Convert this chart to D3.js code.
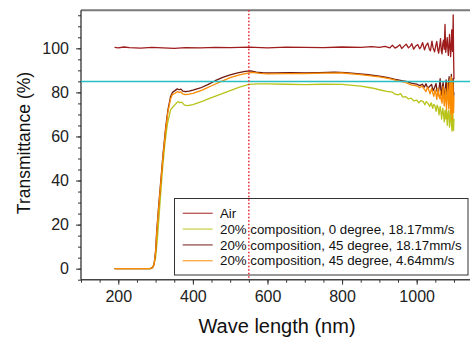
<!DOCTYPE html>
<html>
<head>
<meta charset="utf-8">
<script src="https://cdn.jsdelivr.net/npm/d3@7"></script>
<style>
  html, body { margin: 0; padding: 0; background: #fff; }
  svg { display: block; font-family: "Liberation Sans", Arial, sans-serif; }
</style>
</head>
<body>
<div id="chart"></div>
<script>
// tick labels
const xTicks = [200, 400, 600, 800, 1000];
const yTicks = [0, 20, 40, 60, 80, 100];

// reference lines
const refWave = 550;
const refLevel = 85;

const seriesNames = [
    "Air",
    "20% composition, 0 degree, 18.17mm/s",
    "20% composition, 45 degree, 18.17mm/s",
    "20% composition, 45 degree, 4.64mm/s"
];
const seriesColors = ["#9e1c1c", "#b8c41a", "#6e1a12", "#fb8c00"];

// [wavelength nm, transmittance %]
const air = [
    [190, 100.4], [200, 100.2], [215, 100.6], [230, 100.3], [260, 100.1], [290, 100.4], [320, 100.2],
    [350, 100.0], [380, 100.3], [420, 100.2], [460, 100.4], [500, 100.3], [550, 100.5],
    [600, 100.2], [650, 100.5], [700, 100.4], [750, 100.3], [800, 100.6], [850, 100.4],
    [880, 100.8], [900, 100.4], [915, 100.9], [928, 100.2], [935, 101.4], [942, 100.1],
    [950, 100.9], [955, 101.6], [960, 99.9], [967, 101.1], [972, 101.9], [978, 100.2],
    [983, 101.0], [987, 102.1], [992, 99.6], [997, 100.9], [1003, 101.7], [1008, 99.8],
    [1012, 100.8], [1016, 102.6], [1021, 99.3], [1025, 101.2], [1030, 102.4], [1034, 99.6],
    [1037, 98.9], [1041, 103.3], [1044, 100.2], [1048, 98.4], [1051, 101.0], [1054, 103.1],
    [1057, 99.1], [1059, 97.8], [1062, 101.6], [1064, 104.4], [1066, 99.0], [1068, 97.5],
    [1070, 102.0], [1072, 103.7], [1074, 99.5], [1076, 110.8], [1078, 98.2], [1080, 101.5],
    [1082, 104.9], [1084, 98.8], [1085, 96.8], [1087, 102.2], [1088, 106.3], [1090, 99.5],
    [1091, 96.2], [1093, 103.0], [1094, 108.4], [1095, 100.5], [1096, 98.6], [1097, 104.0],
    [1098, 115.2], [1099, 97.0], [1100, 86.0]
];

const deg0Fast = [
    [190, 0], [250, 0], [288, 0], [295, 1.5], [300, 5], [305, 14], [312, 30], [318, 44],
    [325, 57], [332, 66], [340, 72], [347, 73.5], [355, 75.0], [360, 75.8], [365, 75.3],
    [370, 75.6], [378, 74.2], [385, 74.0], [400, 74.5], [425, 75.9], [450, 77.6],
    [475, 79.2], [500, 80.8], [525, 82.4], [550, 83.6], [575, 83.9], [600, 83.9],
    [650, 83.7], [700, 83.5], [750, 83.7], [800, 83.6], [850, 82.8], [880, 82.0],
    [900, 81.2], [920, 80.5], [935, 80.1], [942, 79.2], [950, 78.9], [957, 79.4],
    [963, 77.9], [970, 78.1], [978, 77.0], [985, 77.4], [992, 76.2], [1000, 76.5],
    [1006, 75.2], [1011, 76.3], [1017, 75.9], [1022, 74.4], [1026, 75.8], [1031, 74.9],
    [1035, 73.6], [1039, 75.3], [1043, 72.8], [1046, 74.6], [1049, 73.9], [1052, 71.4],
    [1055, 74.2], [1058, 72.6], [1060, 69.8], [1063, 73.7], [1065, 71.2], [1067, 67.9],
    [1070, 72.9], [1072, 70.4], [1074, 66.6], [1076, 71.8], [1078, 68.0], [1080, 72.4],
    [1082, 65.1], [1084, 70.2], [1086, 71.9], [1088, 64.2], [1090, 69.0], [1091, 72.3],
    [1093, 66.1], [1095, 62.4], [1096, 69.8], [1097, 71.2], [1098, 64.8], [1099, 62.8],
    [1100, 68.0]
];

const deg45Fast = [
    [190, 0], [250, 0], [285, 0], [292, 0.5], [296, 2], [300, 8], [303, 17], [308, 28],
    [314, 40], [320, 52], [327, 64], [333, 72], [340, 78], [345, 80.0], [352, 80.8],
    [358, 81.6], [363, 81.2], [368, 81.5], [373, 80.6], [380, 80.3], [390, 80.6],
    [400, 81.0], [420, 82.0], [440, 83.5], [460, 85.3], [480, 86.8], [500, 88.0],
    [520, 88.9], [540, 89.5], [555, 89.8], [570, 89.2], [590, 88.8], [620, 88.9],
    [660, 89.0], [700, 88.9], [740, 89.0], [780, 89.2], [810, 89.0], [840, 88.5],
    [870, 88.0], [900, 87.4], [920, 86.8], [940, 86.0], [960, 85.3], [975, 84.9],
    [985, 84.2], [1000, 83.8], [1008, 83.1], [1015, 83.7], [1021, 82.4], [1025, 83.9],
    [1030, 81.9], [1035, 82.8], [1040, 83.6], [1044, 80.8], [1048, 82.2], [1052, 84.0],
    [1055, 80.3], [1058, 79.6], [1061, 83.1], [1063, 86.2], [1065, 80.4], [1067, 78.8],
    [1069, 82.7], [1071, 84.6], [1073, 79.9], [1075, 77.3], [1077, 82.0], [1079, 85.7],
    [1081, 80.2], [1083, 77.6], [1085, 83.4], [1087, 87.1], [1089, 79.0], [1090, 75.8],
    [1092, 82.5], [1093, 88.2], [1095, 80.6], [1096, 77.4], [1097, 83.0], [1098, 86.3],
    [1099, 78.2], [1100, 80.0]
];

const deg45Slow = [
    [190, 0], [250, 0], [285, 0], [292, 0.5], [296, 2], [300, 7.5], [303, 16], [308, 27],
    [314, 39], [320, 51], [327, 63], [333, 71], [340, 77], [345, 79.0], [352, 79.6],
    [358, 80.3], [363, 80.0], [368, 80.2], [373, 79.3], [380, 79.0], [390, 79.2],
    [400, 79.6], [425, 81.0], [450, 83.0], [475, 84.9], [500, 86.7], [525, 88.0],
    [550, 88.9], [560, 89.1], [580, 88.6], [600, 88.4], [650, 88.5], [700, 88.5],
    [750, 88.7], [800, 88.8], [850, 88.1], [900, 87.0], [930, 86.1], [950, 85.2],
    [970, 84.5], [985, 83.4], [1000, 83.0], [1008, 82.1], [1014, 82.9], [1020, 81.6],
    [1025, 80.4], [1029, 82.3], [1033, 80.9], [1036, 79.3], [1040, 81.8], [1043, 79.8],
    [1046, 78.2], [1049, 81.2], [1052, 79.0], [1054, 76.8], [1057, 81.9], [1059, 78.6],
    [1062, 77.2], [1064, 80.7], [1066, 76.4], [1068, 75.1], [1070, 79.8], [1071, 82.7],
    [1073, 76.2], [1074, 73.8], [1076, 78.9], [1077, 81.6], [1079, 75.0], [1080, 72.3],
    [1082, 79.1], [1083, 84.3], [1085, 76.6], [1086, 72.7], [1088, 80.4], [1089, 85.8],
    [1090, 75.2], [1091, 70.3], [1092, 79.5], [1093, 86.9], [1094, 77.0], [1095, 67.8],
    [1096, 76.3], [1097, 85.2], [1098, 79.0], [1099, 70.8], [1100, 78.0]
];

// draw order: back to front
const seriesData = [air, deg0Fast, deg45Fast, deg45Slow];
const drawOrder = [0, 1, 2, 3];

const size = { width: 470, height: 337 };
const plot = { left: 81, right: 472.6, top: 10.2, bottom: 279.7 };

const svg = d3.select("#chart")
    .append("svg")
    .attr("width", size.width)
    .attr("height", size.height);

const xScale = d3.scaleLinear()
    .domain([100, 1150])
    .range([plot.left, plot.right]);

const yScale = d3.scaleLinear()
    .domain([-5, 117.3])
    .range([plot.bottom, plot.top]);

// top frame line
svg.append("line")
    .attr("x1", plot.left).attr("x2", size.width)
    .attr("y1", plot.top).attr("y2", plot.top)
    .attr("stroke", "#7a7a7a")
    .attr("stroke-width", 2);

// minor ticks
const xAxisMinor = d3.axisBottom(xScale)
    .tickValues(d3.range(100, 1151, 50))
    .tickSize(3)
    .tickFormat("");
svg.append("g")
    .attr("transform", "translate(0," + plot.bottom + ")")
    .call(xAxisMinor)
    .call(g => g.select(".domain").remove())
    .selectAll("line").attr("stroke", "#333");

const yAxisMinor = d3.axisLeft(yScale)
    .tickValues(d3.range(-5, 117, 5))
    .tickSize(3)
    .tickFormat("");
svg.append("g")
    .attr("transform", "translate(" + plot.left + ",0)")
    .call(yAxisMinor)
    .call(g => g.select(".domain").remove())
    .selectAll("line").attr("stroke", "#333");

// major axes
const xAxis = d3.axisBottom(xScale)
    .tickValues(xTicks)
    .tickSize(5)
    .tickPadding(6)
    .tickFormat(d3.format("d"));
const gx = svg.append("g")
    .attr("transform", "translate(0," + plot.bottom + ")")
    .call(xAxis);
gx.select(".domain").attr("d", "M" + plot.left + ",0H" + size.width)
    .attr("stroke", "#444").attr("stroke-width", 1.5);
gx.selectAll("line").attr("stroke", "#333");
gx.selectAll("text")
    .attr("font-size", 16)
    .attr("fill", "#222")
    .style("font-family", "'Liberation Sans', Arial, sans-serif");

const yAxis = d3.axisLeft(yScale)
    .tickValues(yTicks)
    .tickSize(5)
    .tickPadding(7)
    .tickFormat(d3.format("d"));
const gy = svg.append("g")
    .attr("transform", "translate(" + plot.left + ",0)")
    .call(yAxis);
gy.select(".domain").attr("d", "M0," + plot.top + "V" + plot.bottom)
    .attr("stroke", "#222").attr("stroke-width", 1.2);
gy.selectAll("line").attr("stroke", "#333");
gy.selectAll("text")
    .attr("font-size", 16)
    .attr("fill", "#222")
    .style("font-family", "'Liberation Sans', Arial, sans-serif");

// axis titles
svg.append("text")
    .attr("x", 277)
    .attr("y", 333)
    .attr("text-anchor", "middle")
    .attr("font-size", 20)
    .attr("fill", "#111")
    .text("Wave length (nm)");

svg.append("text")
    .attr("transform", "translate(30,143) rotate(-90)")
    .attr("text-anchor", "middle")
    .attr("font-size", 17.5)
    .attr("fill", "#111")
    .text("Transmittance (%)");

// curves
const line = d3.line()
    .x(d => xScale(d[0]))
    .y(d => yScale(d[1]));

drawOrder.forEach(i => {
    svg.append("path")
        .datum(seriesData[i])
        .attr("fill", "none")
        .attr("stroke", seriesColors[i])
        .attr("stroke-width", 1.3)
        .attr("stroke-linejoin", "round")
        .attr("d", line);
});

// horizontal cyan reference
svg.append("line")
    .attr("x1", plot.left).attr("x2", size.width)
    .attr("y1", yScale(refLevel)).attr("y2", yScale(refLevel))
    .attr("stroke", "#27bfc4")
    .attr("stroke-width", 1.5);

// legend
const legend = { x: 174.5, y: 198.5, w: 293.5, h: 76.5, rowTop: 213.3, rowStep: 15.8 };
svg.append("rect")
    .attr("x", legend.x).attr("y", legend.y)
    .attr("width", legend.w).attr("height", legend.h)
    .attr("fill", "#fff")
    .attr("stroke", "#333")
    .attr("stroke-width", 1);

seriesNames.forEach((name, i) => {
    const yy = legend.rowTop + i * legend.rowStep;
    svg.append("line")
        .attr("x1", 182.7).attr("x2", 212.7)
        .attr("y1", yy).attr("y2", yy)
        .attr("stroke", seriesColors[i])
        .attr("stroke-opacity", 0.75)
        .attr("stroke-width", 1.3);
    svg.append("text")
        .attr("x", 220)
        .attr("y", yy)
        .attr("dy", "0.35em")
        .attr("font-size", 13.3)
        .attr("fill", "#111")
        .text(name);
});

// vertical dotted red reference
svg.append("line")
    .attr("x1", xScale(refWave)).attr("x2", xScale(refWave))
    .attr("y1", plot.top).attr("y2", plot.bottom)
    .attr("stroke", "#e8303a")
    .attr("stroke-width", 1.6)
    .attr("stroke-dasharray", "1.6,1.9");
</script>
</body>
</html>
